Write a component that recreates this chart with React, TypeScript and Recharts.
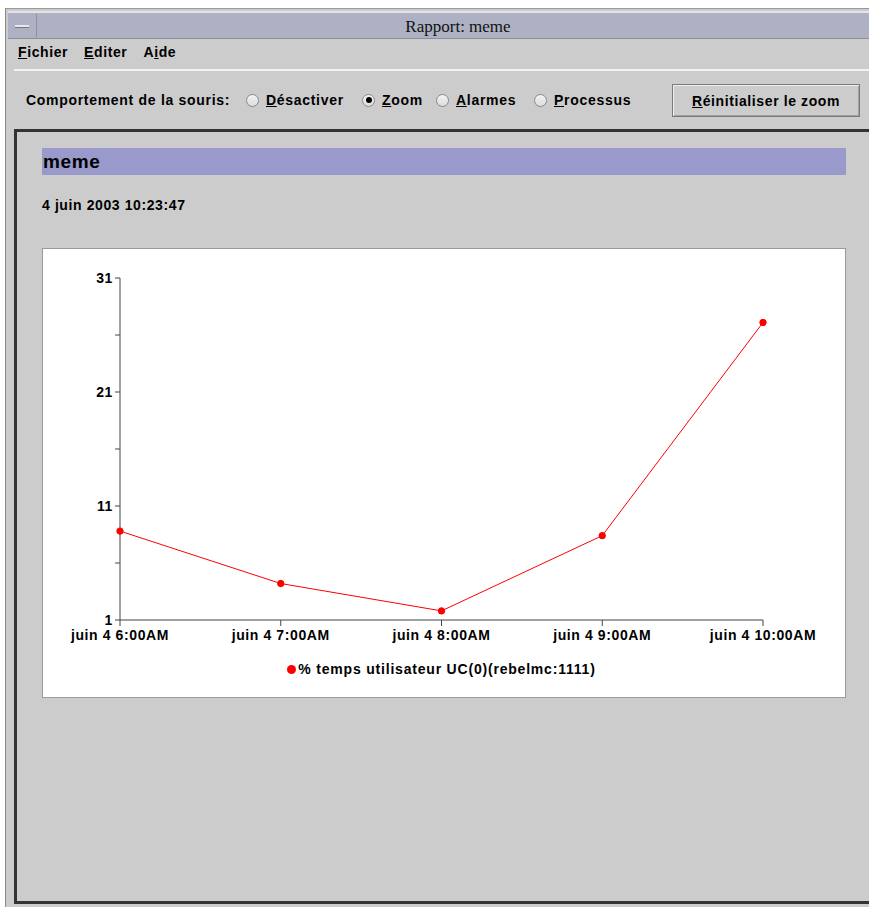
import { LineChart, Line, XAxis, YAxis, Legend } from 'recharts';

const hours = ['juin 4 6:00AM', 'juin 4 7:00AM', 'juin 4 8:00AM', 'juin 4 9:00AM', 'juin 4 10:00AM'];
const cpuUser = [8.8, 4.2, 1.8, 8.4, 27.1];
const yTicks = [1, 6, 11, 16, 21, 26, 31];
const yLabelled = [1, 11, 21, 31];
const seriesName = '% temps utilisateur UC(0)(rebelmc:1111)';

const RED = '#ff0000';
const BG = '#cccccc';
const SANS = '"Liberation Sans", Arial, Helvetica, sans-serif';

const chartData = hours.map((h, i) => ({ hour: h, value: cpuUser[i] }));

const tickStyle = { fill: '#000', fontSize: 14, fontWeight: 'bold', fontFamily: SANS, letterSpacing: 0.6 };

// label with one underlined mnemonic letter, like the Swing widgets
function Mnemonic({ text, at }: { text: string; at: number }) {
  return (
    <span>
      {text.slice(0, at)}
      <span style={{ textDecoration: 'underline' }}>{text[at]}</span>
      {text.slice(at + 1)}
    </span>
  );
}

function Radio({ x, checked, label }: { x: number; checked?: boolean; label: string }) {
  return (
    <div style={{ position: 'absolute', left: x, top: 92, display: 'flex', alignItems: 'center', gap: 7 }}>
      <span
        style={{
          width: 13, height: 13, borderRadius: '50%', boxSizing: 'border-box',
          border: '1px solid #8a8a8a', background: 'linear-gradient(#f4f4f4, #dcdcdc)',
          display: 'inline-flex', alignItems: 'center', justifyContent: 'center',
        }}
      >
        {checked && <span style={{ width: 6, height: 6, borderRadius: '50%', background: '#000' }} />}
      </span>
      <Mnemonic text={label} at={0} />
    </div>
  );
}

function LegendContent() {
  return (
    <div style={{ height: 20, display: 'flex', alignItems: 'center', justifyContent: 'center', fontFamily: SANS, fontWeight: 'bold', fontSize: 14, letterSpacing: 0.8, color: '#000' }}>
      <span style={{ width: 9, height: 9, borderRadius: '50%', background: RED, marginRight: 2, display: 'inline-block' }} />
      {seriesName}
    </div>
  );
}

export default function App() {
  return (
    <div style={{ position: 'fixed', left: 0, top: 0, width: 869, height: 907, background: '#fff', overflow: 'hidden', fontFamily: SANS }}>
      {/* window frame */}
      <div style={{ position: 'absolute', left: 5, top: 8, width: 864, height: 899, background: BG, borderLeft: '1px solid #888', borderTop: '1px solid #999' }} />
      <div style={{ position: 'absolute', left: 8, top: 11, width: 861, height: 2, background: '#e4e4e4' }} />
      {/* title bar */}
      <div style={{ position: 'absolute', left: 8, top: 13, width: 861, height: 25, background: '#adb1c3', borderBottom: '1px solid #8d8fa0' }} />
      <div style={{ position: 'absolute', left: 9, top: 14, width: 27, height: 23, borderRight: '1px solid #8d8fa0' }}>
        <div style={{ position: 'absolute', left: 6, top: 11, width: 14, height: 2, background: '#e6e6ee', borderBottom: '1px solid #777' }} />
      </div>
      <div style={{ position: 'absolute', left: 0, top: 17, width: 916, textAlign: 'center', fontFamily: '"Liberation Serif", "Times New Roman", serif', fontSize: 17, color: '#111' }}>
        Rapport: meme
      </div>
      {/* menu bar */}
      <div style={{ position: 'absolute', left: 18, top: 44, fontWeight: 'bold', fontSize: 14, letterSpacing: 0.6, display: 'flex', gap: 16 }}>
        <Mnemonic text="Fichier" at={0} />
        <Mnemonic text="Editer" at={0} />
        <Mnemonic text="Aide" at={1} />
      </div>
      <div style={{ position: 'absolute', left: 14, top: 69, width: 855, height: 2, background: '#f2f2f2' }} />
      {/* toolbar */}
      <div style={{ fontWeight: 'bold', fontSize: 14, letterSpacing: 0.7 }}>
        <div style={{ position: 'absolute', left: 26, top: 92 }}>Comportement de la souris:</div>
        <Radio x={246} label="Désactiver" />
        <Radio x={362} checked label="Zoom" />
        <Radio x={436} label="Alarmes" />
        <Radio x={534} label="Processus" />
      </div>
      <div
        style={{
          position: 'absolute', left: 672, top: 84, width: 188, height: 33, boxSizing: 'border-box',
          border: '1px solid #7a7a7a', boxShadow: 'inset 1px 1px 0 #f0f0f0, inset -1px -1px 0 #a0a0a0',
          display: 'flex', alignItems: 'center', justifyContent: 'center', fontWeight: 'bold', fontSize: 14, letterSpacing: 0.6,
        }}
      >
        <Mnemonic text="Réinitialiser le zoom" at={0} />
      </div>
      {/* report panel */}
      <div style={{ position: 'absolute', left: 14, top: 129, width: 855, height: 775, boxSizing: 'border-box', borderTop: '3px solid #333', borderLeft: '3px solid #333', borderBottom: '3px solid #333' }} />
      <div style={{ position: 'absolute', left: 42, top: 148, width: 803, height: 27, background: '#9999cc', fontWeight: 'bold', fontSize: 19, letterSpacing: 0.6, lineHeight: '27px', paddingLeft: 1, color: '#000' }}>
        meme
      </div>
      <div style={{ position: 'absolute', left: 42, top: 197, fontWeight: 'bold', fontSize: 14, letterSpacing: 0.6 }}>4 juin 2003 10:23:47</div>
      {/* chart box */}
      <div style={{ position: 'absolute', left: 42, top: 248, width: 804, height: 450, boxSizing: 'border-box', border: '1px solid #9a9a9a', background: '#fff' }}>
        <LineChart width={802} height={448} data={chartData} margin={{ top: 29, right: 82, left: 0, bottom: 18 }}>
          <XAxis
            dataKey="hour"
            height={39}
            interval={0}
            tickSize={6}
            tickMargin={4}
            stroke="#444"
            tick={tickStyle}
          />
          <YAxis
            type="number"
            domain={[1, 31]}
            ticks={yTicks}
            interval={0}
            width={77}
            tickSize={5}
            tickMargin={2}
            stroke="#444"
            tickFormatter={(v: number) => (yLabelled.includes(v) ? String(v) : '')}
            tick={tickStyle}
          />
          <Legend verticalAlign="bottom" content={<LegendContent />} wrapperStyle={{ left: 77, width: 643 }} />
          <Line
            dataKey="value"
            name={seriesName}
            stroke={RED}
            strokeWidth={1}
            dot={{ r: 3.2, fill: RED, stroke: RED, strokeWidth: 1 }}
            isAnimationActive={false}
          />
        </LineChart>
      </div>
    </div>
  );
}
